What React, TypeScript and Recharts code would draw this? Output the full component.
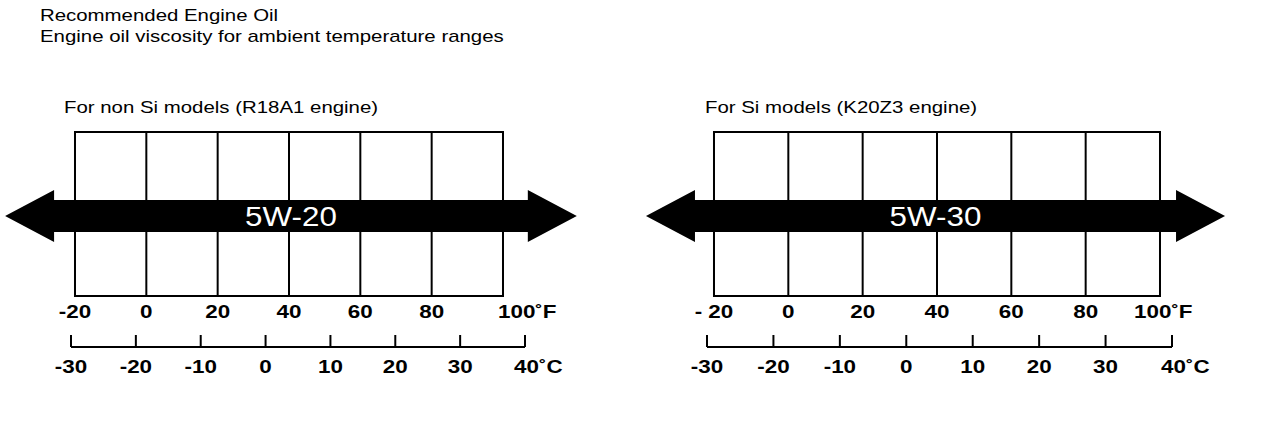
import React from "react";
import { ComposedChart, XAxis, YAxis, CartesianGrid, ReferenceArea } from "recharts";

// Temperature scales (°F on the grid, °C on the ruler underneath)
const F_TICKS = [-20, 0, 20, 40, 60, 80, 100];
const C_TICKS = [-30, -20, -10, 0, 10, 20, 30, 40];
const F_LABELS_NON_SI = ["-20", "0", "20", "40", "60", "80", "100˚F"];
const F_LABELS_SI = ["- 20", "0", "20", "40", "60", "80", "100˚F"];
const C_LABELS = ["-30", "-20", "-10", "0", "10", "20", "30", "40˚C"];

const PANEL_TITLES = ["For non Si models (R18A1 engine)", "For Si models (K20Z3 engine)"];
const OIL_GRADES = ["5W-20", "5W-30"];
// the arrows run off both ends of the scale (°F at the arrow tips)
const GRADE_FROM_F = [-39.6, -38.3];
const GRADE_TO_F = [120.7, 117.5];

const FONT = "'Liberation Sans', Arial, Helvetica, sans-serif";
const SX = 1.18; // the scanned lettering is a bit wide
const TITLE_SX = 1.2;

const PANELS = [
  {
    left: 0,
    margin: { top: 132, right: 107, bottom: 0, left: 71 },
    fDomain: [-21.12, 106.17],
    fLabels: F_LABELS_NON_SI,
    lastDx: -5,
    titleX: 64,
  },
  {
    left: 632,
    margin: { top: 132, right: 92, bottom: 0, left: 75 },
    fDomain: [-21.88, 103.23],
    fLabels: F_LABELS_SI,
    lastDx: -26,
    titleX: 705,
  },
];

function FTick(props: any) {
  const { x, y, payload, labels, lastDx } = props;
  const i = F_TICKS.indexOf(payload.value);
  const last = i === F_TICKS.length - 1;
  return (
    <text
      x={0}
      y={0}
      transform={`translate(${last ? x + lastDx : x},${y + 22}) scale(${SX},1)`}
      textAnchor={last ? "start" : "middle"}
      fontSize={19}
      fontWeight="bold"
      fontFamily={FONT}
      fill="#000"
    >
      {labels[i]}
    </text>
  );
}

function CTick(props: any) {
  const { x, y, payload } = props;
  const i = C_TICKS.indexOf(payload.value);
  const last = i === C_TICKS.length - 1;
  return (
    <g>
      <line x1={x} x2={x} y1={y - 12} y2={y} stroke="#000" strokeWidth={2} />
      <text
        x={0}
        y={0}
        transform={`translate(${last ? x - 11 : x},${y + 26}) scale(${SX},1)`}
        textAnchor={last ? "start" : "middle"}
        fontSize={19}
        fontWeight="bold"
        fontFamily={FONT}
        fill="#000"
      >
        {C_LABELS[i]}
      </text>
    </g>
  );
}

function GradeArrow(props: any) {
  const { x, y, width, height, grade } = props;
  const head = 49;
  const flare = 10;
  const mid = y + height / 2;
  const r = x + width;
  const pts = [
    [x, mid],
    [x + head, y - flare],
    [x + head, y],
    [r - head, y],
    [r - head, y - flare],
    [r, mid],
    [r - head, y + height + flare],
    [r - head, y + height],
    [x + head, y + height],
    [x + head, y + height + flare],
  ];
  return (
    <g>
      <polygon points={pts.map((p) => p.join(",")).join(" ")} fill="#000" />
      <text
        x={0}
        y={0}
        transform={`translate(${x + width / 2},${mid + 10}) scale(1.12,1)`}
        textAnchor="middle"
        fontSize={28}
        fontFamily={FONT}
        fill="#fff"
      >
        {grade}
      </text>
    </g>
  );
}

function Panel({ idx }: { idx: number }) {
  const p = PANELS[idx];
  return (
    <div style={{ position: "absolute", left: p.left, top: 0 }}>
      <ComposedChart width={632} height={426} margin={p.margin}>
        <CartesianGrid horizontal={false} syncWithTicks stroke="#000" strokeWidth={2} />
        <XAxis
          type="number"
          dataKey="f"
          domain={p.fDomain}
          ticks={F_TICKS}
          interval={0}
          allowDataOverflow
          height={51}
          axisLine={false}
          tickLine={false}
          tickSize={0}
          tickMargin={0}
          tick={<FTick labels={p.fLabels} lastDx={p.lastDx} />}
        />
        <XAxis
          xAxisId="c"
          type="number"
          dataKey="c"
          domain={[-30, 40]}
          ticks={C_TICKS}
          interval={0}
          allowDataOverflow
          height={79}
          axisLine={{ stroke: "#000", strokeWidth: 2 }}
          tickLine={false}
          tickSize={0}
          tickMargin={0}
          tick={<CTick />}
        />
        <YAxis hide type="number" domain={[0, 1]} allowDataOverflow />
        <ReferenceArea
          x1={-20}
          x2={100}
          y1={0}
          y2={1}
          fill="none"
          stroke="#000"
          strokeWidth={2}
          ifOverflow="visible"
        />
        <ReferenceArea
          x1={GRADE_FROM_F[idx]}
          x2={GRADE_TO_F[idx]}
          y1={0.39}
          y2={0.585}
          ifOverflow="visible"
          shape={(sp: any) => <GradeArrow {...sp} grade={OIL_GRADES[idx]} />}
        />
      </ComposedChart>
      <div
        style={{
          position: "absolute",
          left: p.titleX - p.left,
          top: 99,
          fontSize: 17,
          lineHeight: "17px",
          fontFamily: FONT,
          whiteSpace: "nowrap",
          transform: `scaleX(${TITLE_SX})`,
          transformOrigin: "left",
        }}
      >
        {PANEL_TITLES[idx]}
      </div>
    </div>
  );
}

export default function App() {
  return (
    <div
      style={{
        position: "absolute",
        left: 0,
        top: 0,
        width: 1264,
        height: 426,
        background: "#fff",
        fontFamily: FONT,
        color: "#000",
      }}
    >
      <div
        style={{
          position: "absolute",
          left: 40,
          top: 5,
          fontSize: 17,
          lineHeight: "21px",
          whiteSpace: "nowrap",
          transform: `scaleX(${TITLE_SX})`,
          transformOrigin: "left",
        }}
      >
        <div>Recommended Engine Oil</div>
        <div>Engine oil viscosity for ambient temperature ranges</div>
      </div>
      <Panel idx={0} />
      <Panel idx={1} />
    </div>
  );
}
